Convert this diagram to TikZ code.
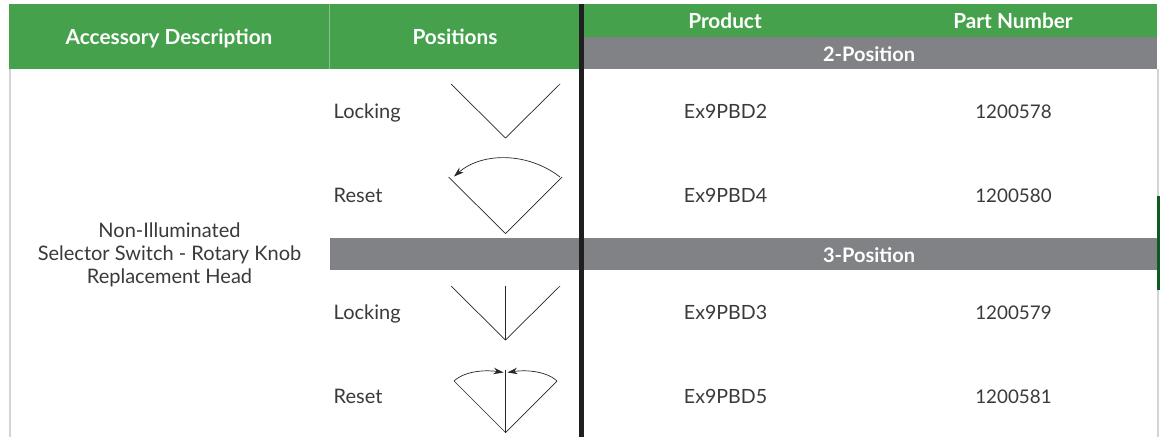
\documentclass[tikz,border=0pt]{standalone}
\usepackage{fontspec}
\setmainfont{Lato}
\usetikzlibrary{arrows.meta}
\definecolor{hgreen}{HTML}{45A14B}
\definecolor{dgreen}{HTML}{0F5A22}
\definecolor{hgrey}{HTML}{808285}
\definecolor{txt}{HTML}{3A3A3C}
\definecolor{rulec}{HTML}{D4D4D4}
\tikzset{
  head/.style={text=white,font=\fontsize{20.8}{23}\selectfont\bfseries,inner sep=0pt,anchor=center},
  sub/.style={text=white,font=\fontsize{20}{22}\selectfont\bfseries,inner sep=0pt,anchor=center},
  body/.style={text=txt,font=\fontsize{19.6}{22}\selectfont,inner sep=0pt,anchor=center},
  num/.style={text=txt,font=\fontsize{18.8}{22}\selectfont,inner sep=0pt,anchor=center},
  poslabel/.style={text=txt,font=\fontsize{20}{22}\selectfont,inner sep=0pt,anchor=base west},
  sym/.style={draw=black!85,line width=0.7pt},
  tip/.style={-{Stealth[length=10pt,width=6.5pt]}}
}
\begin{document}
\begin{tikzpicture}[x=1pt,y=-1pt]
\useasboundingbox (0,0) rectangle (1160,437);
\fill[white] (0,0) rectangle (1160,437);
% frame rules
\fill[rulec] (9,69) rectangle (11,437);
\fill[rulec] (1156.5,69) rectangle (1159,437);
% header bands
\fill[hgreen] (9,4) rectangle (1157,69);
\fill[hgrey] (581,37) rectangle (1157,69);
\fill[hgrey] (330,238) rectangle (1157,270);
\fill[black!10!hgreen!60!white] (328.5,4) rectangle (329.7,69);
\fill[dgreen] (1157,196) rectangle (1160,290);
\fill[black!88] (579,4) rectangle (584,437);
% header text
\node[head] (acc) at (169,39) {Accessory Description};
\node[head] (pos) at (455,37) {Positions};
\node[head] (prod) at (725,21) {Product};
\node[head] (pn) at (1013,21) {Part Number};
\node[sub] (two) at (869,54) {2-Position};
\node[sub] (three) at (869,255) {3-Position};
% description
\node[body,align=center,font=\fontsize{20}{23}\selectfont] (desc) at (169.5,254.5) {Non-Illuminated\\Selector Switch - Rotary Knob\\Replacement Head};
% position labels
\node[poslabel] (l1) at (333.5,118) {Locking};
\node[poslabel] (r1) at (333.5,202) {Reset};
\node[poslabel] (l2) at (333.5,319) {Locking};
\node[poslabel] (r2) at (333.5,403) {Reset};
% products
\node[body] (p1) at (725.5,111.5) {Ex9PBD2};
\node[body] (p2) at (725.5,195.5) {Ex9PBD4};
\node[body] (p3) at (725.5,312.5) {Ex9PBD3};
\node[body] (p4) at (725.5,396.5) {Ex9PBD5};
\node[num] (n1) at (1013.5,111.5) {1200578};
\node[num] (n2) at (1013.5,195.5) {1200580};
\node[num] (n3) at (1013.5,312.5) {1200579};
\node[num] (n4) at (1013.5,396.5) {1200581};
% symbol 1
\coordinate (a1) at (451,84); \coordinate (a2) at (505.5,138); \coordinate (a3) at (560,84);
\draw[sym] (a1) -- (a2) -- (a3);
% symbol 2
\coordinate (b1) at (448.5,177); \coordinate (b2) at (505.5,233.5); \coordinate (b3) at (562,177);
\coordinate (b4) at (560,177); \coordinate (b5) at (454,176.5);
\draw[sym] (b1) -- (b2) -- (b3);
\draw[sym,tip] (b4) .. controls (528,152) and (482,152) .. (b5);
% symbol 3
\coordinate (c1) at (451,286); \coordinate (c2) at (505.5,340); \coordinate (c3) at (560,286); \coordinate (c4) at (505.5,286);
\draw[sym] (c1) -- (c2) -- (c3);
\draw[sym] (c4) -- (c2);
% symbol 4
\coordinate (d1) at (454,381); \coordinate (d2) at (505.5,432.5); \coordinate (d3) at (557,381); \coordinate (d4) at (505.5,370);
\coordinate (d5) at (503.5,372.5); \coordinate (d6) at (507.5,372.5);
\draw[sym] (d1) -- (d2) -- (d3);
\draw[sym] (d4) -- (d2);
\draw[sym,tip] (d1) .. controls (466,370) and (488,370) .. (d5);
\draw[sym,tip] (d3) .. controls (545,370) and (523,370) .. (d6);
\end{tikzpicture}
\end{document}
